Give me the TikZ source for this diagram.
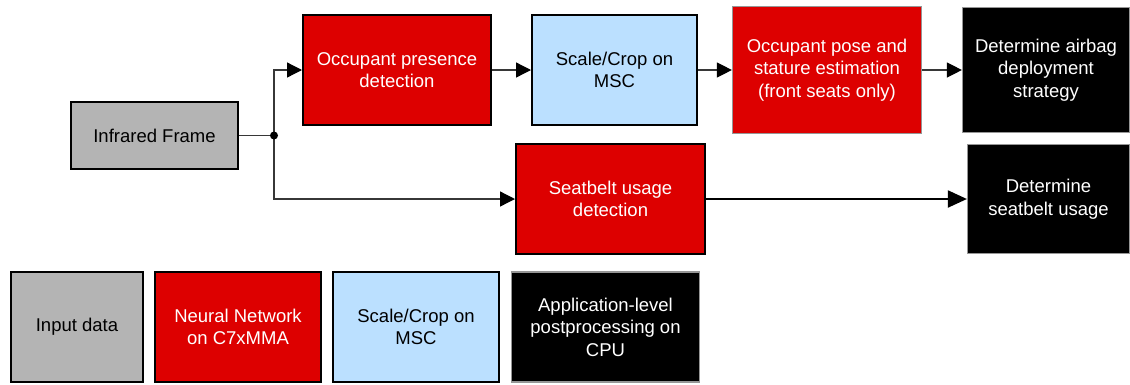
\documentclass[tikz,border=0pt]{standalone}
\usepackage{fontspec}
\setmainfont{Liberation Sans}
\usetikzlibrary{arrows.meta}
\definecolor{nnred}{RGB}{221,0,0}
\definecolor{mscblue}{RGB}{187,224,255}
\definecolor{ingray}{RGB}{180,180,180}
\definecolor{linegray}{RGB}{55,55,55}
\definecolor{edgegray}{RGB}{150,150,150}
\tikzset{
  box/.style={rectangle, inner sep=0pt, align=center, font=\fontsize{18.5}{22.5}\selectfont},
  redbox/.style={box, fill=nnred, text=white, draw=black, line width=2pt},
  redlight/.style={box, fill=nnred, text=white, draw=edgegray, line width=1.2pt},
  bluebox/.style={box, fill=mscblue, text=black, draw=black, line width=2pt},
  graybox/.style={box, fill=ingray, text=black, draw=black, line width=2pt},
  blackbox/.style={box, fill=black, text=white, draw=edgegray, line width=1.2pt},
  conn/.style={draw=linegray, line width=1.3pt, -{Triangle[length=15pt,width=15pt,color=black]}},
  connbold/.style={draw=black, line width=2pt, -{Triangle[length=19pt,width=17pt,color=black]}}
}
\begin{document}
\begin{tikzpicture}[x=1pt,y=-1pt]
\useasboundingbox (0,0) rectangle (1130,384);
% main flow
\node[graybox, minimum width=167pt, minimum height=67pt] (ir) at (154.5,135.5) {Infrared Frame};
\node[redbox, minimum width=188pt, minimum height=110pt] (occ) at (397,70) {Occupant presence\\detection};
\node[bluebox, minimum width=165pt, minimum height=110pt] (msc) at (614.5,70) {Scale/Crop on\\MSC};
\node[redlight, minimum width=189pt, minimum height=127pt] (pose) at (827,70) {Occupant pose and\\stature estimation\\(front seats only)};
\node[blackbox, minimum width=167pt, minimum height=125pt] (air) at (1046,70) {Determine airbag\\deployment\\strategy};
\node[redbox, minimum width=189pt, minimum height=110pt] (belt) at (610.5,199) {Seatbelt usage\\detection};
\node[blackbox, minimum width=162pt, minimum height=109pt] (dsb) at (1048.5,199) {Determine\\seatbelt usage};
% legend
\node[graybox, minimum width=132pt, minimum height=110pt] (lin) at (77,327) {Input data};
\node[redbox, minimum width=166pt, minimum height=110pt] (lnn) at (238,327) {Neural Network\\on C7xMMA};
\node[bluebox, minimum width=166pt, minimum height=110pt] (lmsc) at (416,327) {Scale/Crop on\\MSC};
\node[blackbox, minimum width=188pt, minimum height=110pt] (lapp) at (605.5,327) {Application-level\\postprocessing on\\CPU};
% connectors
\coordinate (j) at (274,135.5);
\draw[draw=linegray, line width=1.3pt] (ir.east) -- (j);
\draw[conn] (j) |- (occ.west);
\draw[conn] (j) |- (belt.west);
\fill[black] (j) circle (4pt);
\draw[conn] (occ.east) -- (msc.west);
\draw[conn] (msc.east) -- (pose.west);
\draw[conn] (pose.east) -- (air.west);
\draw[connbold] (belt.east) -- (dsb.west);
\end{tikzpicture}
\end{document}
